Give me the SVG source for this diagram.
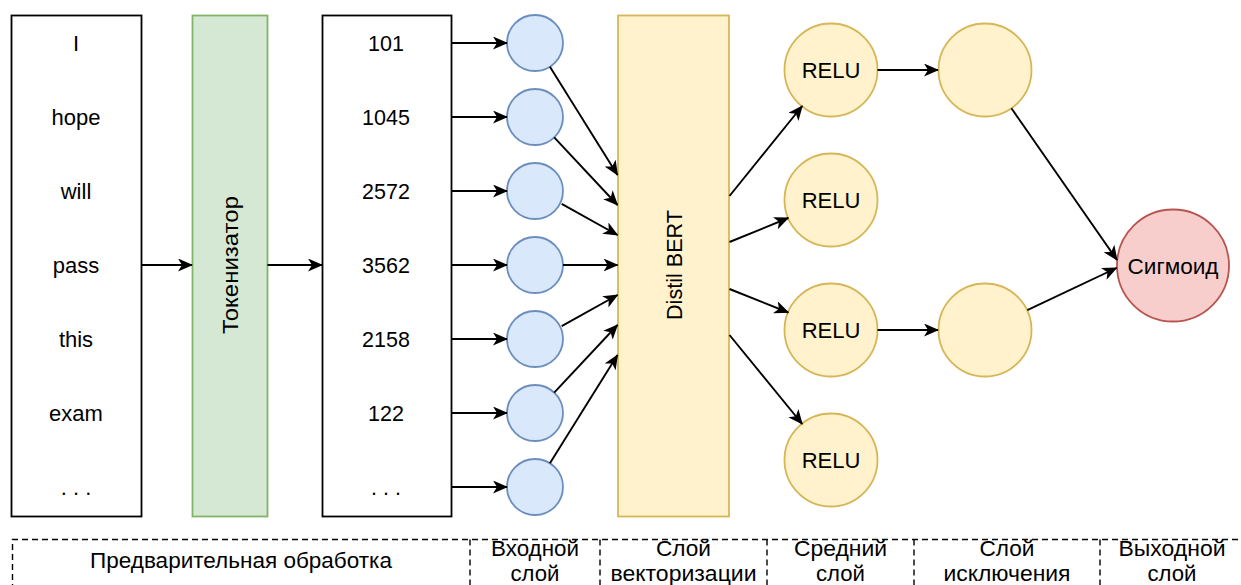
<svg xmlns="http://www.w3.org/2000/svg" width="1241" height="585" viewBox="0 0 1241 585">
  <style>
    text { font-family: "Liberation Sans", Arial, Helvetica, sans-serif; font-size: 22px; fill: #000; text-anchor: middle; }
    .num { font-size: 21.5px; }
    .cy { font-size: 22.5px; }
    .box { fill: #fff; stroke: #000; stroke-width: 1.8; }
    .tok { fill: #d5e8d4; stroke: #82b366; stroke-width: 1.8; }
    .bert { fill: #fff2cc; stroke: #d6b656; stroke-width: 1.8; }
    .inp { fill: #dae8fc; stroke: #6c8ebf; stroke-width: 1.8; }
    .yel { fill: #fff2cc; stroke: #d6b656; stroke-width: 1.8; }
    .sig { fill: #f8cecc; stroke: #b85450; stroke-width: 1.8; }
    .edge { fill: none; stroke: #000; stroke-width: 1.9; marker-end: url(#arrow); }
    .dash { fill: none; stroke: #000; stroke-width: 1.4; stroke-dasharray: 6 4; }
  </style>
  <defs>
    <marker id="arrow" viewBox="0 0 15 13" refX="14" refY="6.5" markerWidth="15" markerHeight="13" markerUnits="userSpaceOnUse" orient="auto">
      <path d="M0,0 L15,6.5 L0,13 L4,6.5 Z" fill="#000"/>
    </marker>
  </defs>
  <rect width="1241" height="585" fill="#fff"/>

  <!-- input sentence -->
  <g id="sentence">
    <rect class="box" x="11.5" y="15.5" width="130" height="501"/>
    <text x="76" y="50.5">I</text>
    <text x="76" y="124.5">hope</text>
    <text x="76" y="198.5">will</text>
    <text x="76" y="272.5">pass</text>
    <text x="76" y="346.5">this</text>
    <text x="76" y="420.5">exam</text>
    <text x="76" y="494.5">. . .</text>
  </g>

  <!-- tokenizer -->
  <g id="tokenizer">
    <rect class="tok" x="192.5" y="15.5" width="75" height="501"/>
    <text class="cy" transform="translate(230,265) rotate(-90)" y="8" textLength="138" lengthAdjust="spacingAndGlyphs">Токенизатор</text>
  </g>

  <!-- token ids -->
  <g id="token-ids">
    <rect class="box" x="322.5" y="15.5" width="129" height="501"/>
    <text class="num" x="386" y="50.5">101</text>
    <text class="num" x="386" y="124.5">1045</text>
    <text class="num" x="386" y="198.5">2572</text>
    <text class="num" x="386" y="272.5">3562</text>
    <text class="num" x="386" y="346.5">2158</text>
    <text class="num" x="386" y="420.5">122</text>
    <text class="num" x="386" y="494.5">. . .</text>
  </g>

  <!-- input layer -->
  <g id="input-1"><circle class="inp" cx="535" cy="43" r="28"/></g>
  <g id="input-2"><circle class="inp" cx="535" cy="117" r="28"/></g>
  <g id="input-3"><circle class="inp" cx="535" cy="191" r="28"/></g>
  <g id="input-4"><circle class="inp" cx="535" cy="265" r="28"/></g>
  <g id="input-5"><circle class="inp" cx="535" cy="339" r="28"/></g>
  <g id="input-6"><circle class="inp" cx="535" cy="413" r="28"/></g>
  <g id="input-7"><circle class="inp" cx="535" cy="487" r="28"/></g>

  <!-- embedding layer -->
  <g id="distilbert">
    <rect class="bert" x="618" y="15.5" width="111" height="501"/>
    <text transform="translate(674,265) rotate(-90)" y="8" textLength="110" lengthAdjust="spacingAndGlyphs">Distil BERT</text>
  </g>

  <!-- hidden layer -->
  <g id="relu-1"><circle class="yel" cx="831" cy="70" r="46.5"/><text x="831" y="78">RELU</text></g>
  <g id="relu-2"><circle class="yel" cx="831" cy="200" r="46.5"/><text x="831" y="208">RELU</text></g>
  <g id="relu-3"><circle class="yel" cx="831" cy="330" r="46.5"/><text x="831" y="338">RELU</text></g>
  <g id="relu-4"><circle class="yel" cx="831" cy="460" r="46.5"/><text x="831" y="468">RELU</text></g>

  <!-- dropout layer -->
  <g id="dropout-1"><circle class="yel" cx="985" cy="70" r="46.5"/></g>
  <g id="dropout-2"><circle class="yel" cx="985" cy="330" r="46.5"/></g>

  <!-- output layer -->
  <g id="sigmoid"><circle class="sig" cx="1173" cy="265.5" r="56"/><text class="cy" x="1173" y="273.5" textLength="91" lengthAdjust="spacingAndGlyphs">Сигмоид</text></g>

  <!-- connectors -->
  <g id="connectors">
    <line class="edge" x1="141.5" y1="265" x2="192" y2="265"/>
    <line class="edge" x1="267.5" y1="265" x2="322" y2="265"/>

    <line class="edge" x1="451.5" y1="43" x2="507" y2="43"/>
    <line class="edge" x1="451.5" y1="117" x2="507" y2="117"/>
    <line class="edge" x1="451.5" y1="191" x2="507" y2="191"/>
    <line class="edge" x1="451.5" y1="265" x2="507" y2="265"/>
    <line class="edge" x1="451.5" y1="339" x2="507" y2="339"/>
    <line class="edge" x1="451.5" y1="413" x2="507" y2="413"/>
    <line class="edge" x1="451.5" y1="487" x2="507" y2="487"/>

    <line class="edge" x1="549.9" y1="66.7" x2="617.5" y2="175"/>
    <line class="edge" x1="554.2" y1="137.4" x2="617.5" y2="205"/>
    <line class="edge" x1="561.7" y1="203.9" x2="617.5" y2="235"/>
    <line class="edge" x1="563" y1="265" x2="617.5" y2="265"/>
    <line class="edge" x1="561.7" y1="326.1" x2="617.5" y2="295"/>
    <line class="edge" x1="554.2" y1="392.6" x2="617.5" y2="325"/>
    <line class="edge" x1="549.9" y1="463.3" x2="617.5" y2="355"/>

    <line class="edge" x1="729.5" y1="196" x2="802.2" y2="106"/>
    <line class="edge" x1="729.5" y1="242" x2="788.3" y2="218"/>
    <line class="edge" x1="729.5" y1="289" x2="788.3" y2="312.5"/>
    <line class="edge" x1="729.5" y1="335" x2="802.2" y2="424"/>

    <line class="edge" x1="877.5" y1="70" x2="938" y2="70"/>
    <line class="edge" x1="877.5" y1="330" x2="938" y2="330"/>

    <line class="edge" x1="1011.4" y1="108.3" x2="1117" y2="260"/>
    <line class="edge" x1="1027.3" y1="310.2" x2="1116.5" y2="268"/>
  </g>

  <!-- layer captions -->
  <g id="captions">
    <path class="dash" d="M12.5,600 V539.5 H1250"/>
    <path class="dash" d="M470,539.5 V600 M600,539.5 V600 M767,539.5 V600 M914,539.5 V600 M1100,539.5 V600"/>
    <text class="cy" x="241" y="567.5" textLength="302" lengthAdjust="spacingAndGlyphs">Предварительная обработка</text>
    <text class="cy" x="535" y="555.5" textLength="88" lengthAdjust="spacingAndGlyphs">Входной</text>
    <text class="cy" x="535" y="580.5" textLength="49" lengthAdjust="spacingAndGlyphs">слой</text>
    <text class="cy" x="683.5" y="555.5" textLength="55" lengthAdjust="spacingAndGlyphs">Слой</text>
    <text class="cy" x="683.5" y="580.5" textLength="146" lengthAdjust="spacingAndGlyphs">векторизации</text>
    <text class="cy" x="840.5" y="555.5" textLength="93" lengthAdjust="spacingAndGlyphs">Средний</text>
    <text class="cy" x="840.5" y="580.5" textLength="49" lengthAdjust="spacingAndGlyphs">слой</text>
    <text class="cy" x="1007" y="555.5" textLength="55" lengthAdjust="spacingAndGlyphs">Слой</text>
    <text class="cy" x="1007" y="580.5" textLength="127" lengthAdjust="spacingAndGlyphs">исключения</text>
    <text class="cy" x="1172" y="555.5" textLength="107" lengthAdjust="spacingAndGlyphs">Выходной</text>
    <text class="cy" x="1172" y="580.5" textLength="49" lengthAdjust="spacingAndGlyphs">слой</text>
  </g>
</svg>
